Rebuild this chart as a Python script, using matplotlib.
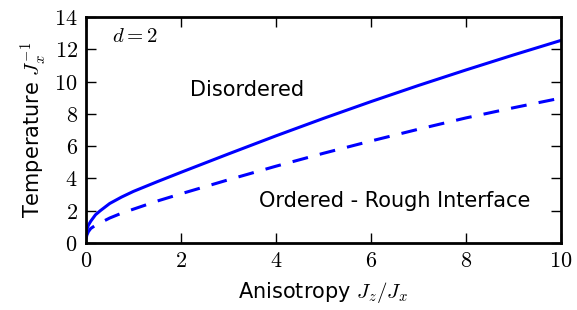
import numpy as np
import matplotlib
matplotlib.use("Agg")
import matplotlib.pyplot as plt
from matplotlib.ticker import FuncFormatter

plt.rcParams['mathtext.fontset'] = 'cm'

# transition lines
x_vals = [0, 0.02, 0.05, 0.1, 0.2, 0.3, 0.5, 0.75, 1, 1.5, 2, 3, 4, 5, 6, 7, 8, 9, 10]
t_disorder = [0.4, 0.85, 1.1, 1.35, 1.75, 2.0, 2.45, 2.85, 3.2, 3.8, 4.38, 5.52,
              6.64, 7.72, 8.76, 9.76, 10.72, 11.65, 12.55]
t_rough = [0.25, 0.5, 0.7, 0.9, 1.1, 1.25, 1.55, 1.85, 2.1, 2.6, 3.05, 3.92,
           4.76, 5.56, 6.32, 7.05, 7.75, 8.38, 8.98]

fig = plt.figure(figsize=(5.77, 3.10), dpi=100)
ax = fig.add_axes([0.149, 0.216, 0.823, 0.729])

ax.plot(x_vals, t_disorder, color='blue', lw=2.2)
ax.plot(x_vals, t_rough, color='blue', lw=2.2, ls='--', dashes=(5.2, 4))

ax.set_xlim(0, 10)
ax.set_ylim(0, 14)
ax.set_xticks(np.arange(0, 11, 2))
ax.set_yticks(np.arange(0, 15, 2))
fmt = FuncFormatter(lambda v, p: r'$%d$' % v)
ax.xaxis.set_major_formatter(fmt)
ax.yaxis.set_major_formatter(fmt)
ax.tick_params(direction='in', length=7, width=1, top=True, right=True,
               labelsize=16, pad=6)
for s in ax.spines.values():
    s.set_linewidth(2)

ax.set_xlabel(r'Anisotropy $J_z/J_x$', fontsize=15, labelpad=6)
ax.set_ylabel(r'Temperature $J_x^{-1}$', fontsize=15, labelpad=4)

ax.text(0.55, 12.8, r'$d=2$', fontsize=15, ha='left', va='center')
ax.text(3.4, 9.5, 'Disordered', fontsize=15, ha='center', va='center')
ax.text(6.5, 2.6, 'Ordered - Rough Interface', fontsize=15, ha='center', va='center')

fig.savefig('out.png', dpi=100)
